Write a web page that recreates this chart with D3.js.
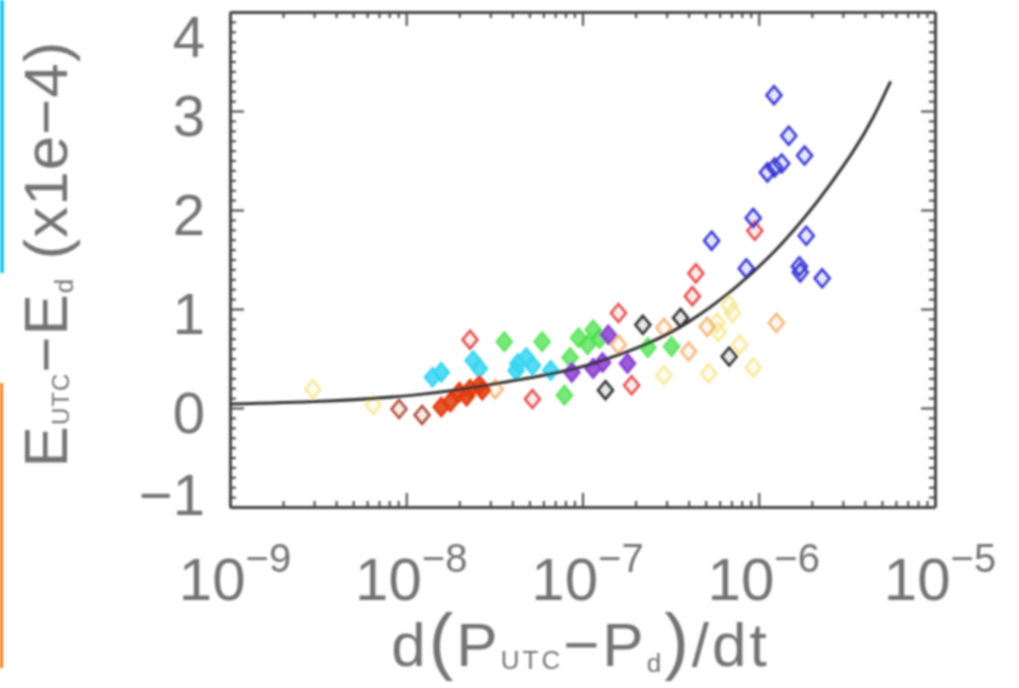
<!DOCTYPE html>
<html>
<head>
<meta charset="utf-8">
<script src="https://cdn.jsdelivr.net/npm/d3@7/dist/d3.min.js"></script>
<style>
  html, body { margin: 0; padding: 0; background: #ffffff; }
  svg { display: block; }
  text { font-family: "Liberation Sans", Arial, Helvetica, sans-serif; fill: #737373; }
</style>
</head>
<body>
<svg id="chart" width="1019" height="688"></svg>
<script>
// ---------------- data ----------------
const xTickValues = [1e-9, 1e-8, 1e-7, 1e-6, 1e-5];
const xTickExponents = ["\u22129", "\u22128", "\u22127", "\u22126", "\u22125"];
const yTickValues = [-1, 0, 1, 2, 3, 4];
const yTickLabels = ["\u22121", "0", "1", "2", "3", "4"];

// fitted curve, points [x, y]
const fitCurve = [
  [1e-9, 0.04], [1.1e-8, 0.13], [3.6e-8, 0.26], [1.2e-7, 0.46], [4.0e-7, 0.87],
  [7.3e-7, 1.21], [1.35e-6, 1.66], [2.45e-6, 2.22], [4.47e-6, 2.94], [5.6e-6, 3.30]
];

// scatter series [x, y]
const blueData = [
  [1.22e-6, 3.16], [1.48e-6, 2.75], [1.82e-6, 2.55], [1.23e-6, 2.43], [1.35e-6, 2.47],
  [1.12e-6, 2.38], [9.3e-7, 1.92], [5.4e-7, 1.69], [1.86e-6, 1.74], [8.5e-7, 1.41],
  [1.70e-6, 1.43], [1.72e-6, 1.37], [2.29e-6, 1.31]
];
const redData = [
  [9.5e-7, 1.79], [4.4e-7, 1.36], [4.2e-7, 1.13], [2.3e-8, 0.69], [5.2e-8, 0.09],
  [1.9e-7, 0.23], [1.6e-7, 0.96]
];
const blackData = [
  [3.6e-7, 0.91], [6.8e-7, 0.52], [1.35e-7, 0.18], [2.2e-7, 0.84]
];
const purpleData = [
  [1.3e-7, 0.46], [1.8e-7, 0.45], [8.7e-8, 0.36], [1.4e-7, 0.74], [1.15e-7, 0.40]
];
const greenData = [
  [3.6e-8, 0.67], [5.9e-8, 0.67], [1.15e-7, 0.79], [1.07e-7, 0.64], [8.5e-8, 0.51],
  [3.2e-7, 0.62], [2.35e-7, 0.61], [7.9e-8, 0.13], [9.5e-8, 0.71], [1.25e-7, 0.70]
];
const cyanData = [
  [1.41e-8, 0.31], [1.58e-8, 0.36], [2.4e-8, 0.48], [2.6e-8, 0.40], [4.3e-8, 0.45],
  [4.8e-8, 0.51], [5.2e-8, 0.43], [6.6e-8, 0.38], [4.2e-8, 0.38]
];
const redFilledData = [
  [2.0e-8, 0.16], [2.3e-8, 0.19], [2.6e-8, 0.23], [1.78e-8, 0.06], [1.58e-8, 0.01],
  [2.7e-8, 0.18], [2.2e-8, 0.12]
];
const darkRedData = [
  [9.1e-9, -0.01], [1.23e-8, -0.07]
];
const orangeData = [
  [3.2e-8, 0.19], [2.9e-7, 0.81], [4.0e-7, 0.57], [1.26e-6, 0.86], [1.6e-7, 0.64],
  [5.1e-7, 0.82]
];
const yellowData = [
  [2.95e-9, 0.19], [6.8e-7, 1.04], [7.1e-7, 0.96], [5.8e-7, 0.86], [9.3e-7, 0.41],
  [5.2e-7, 0.35], [2.9e-7, 0.33], [7.8e-7, 0.64], [6.5e-9, 0.03], [5.9e-7, 0.77]
];

// drawing order / styles
const seriesTable = [
  { data: yellowData,    color: "#f6e27a", filled: false, opacity: 0.75 },
  { data: orangeData,    color: "#f2a860", filled: false, opacity: 0.8 },
  { data: cyanData,      color: "#3ad6f2", filled: true,  opacity: 1 },
  { data: greenData,     color: "#46e046", filled: true,  opacity: 0.85 },
  { data: redFilledData, color: "#e23c10", filled: true,  opacity: 1 },
  { data: darkRedData,   color: "#b0503c", filled: false, opacity: 1 },
  { data: purpleData,    color: "#8a40d0", filled: true,  opacity: 1 },
  { data: redData,       color: "#e45050", filled: false, opacity: 1 },
  { data: blackData,     color: "#333333", filled: false, opacity: 1 },
  { data: blueData,      color: "#3838d6", filled: false, opacity: 1 }
];

// ---------------- layout ----------------
const svg = d3.select("#chart");
const plot = { left: 230, right: 935, top: 12, bottom: 507 };

const x = d3.scaleLog().domain([1e-9, 1e-5]).range([plot.left, plot.right]);
const y = d3.scaleLinear().domain([-1, 4]).range([plot.bottom, plot.top]);

// blur to mimic the soft reference
const defs = svg.append("defs");
defs.append("filter").attr("id", "soft").attr("x", "-5%").attr("y", "-5%")
  .attr("width", "110%").attr("height", "110%")
  .append("feGaussianBlur").attr("stdDeviation", 0.9);

const root = svg.append("g").attr("filter", "url(#soft)");

// side markers seen on the reference's left edge
root.append("rect").attr("x", 0).attr("y", 0).attr("width", 4).attr("height", 273).attr("fill", "#1ec6f0");
root.append("rect").attr("x", 0).attr("y", 383).attr("width", 3).attr("height", 285).attr("fill", "#f47a10");

// ---------------- axes ----------------
const majorLen = 14, minorLen = 6;
const xMinor = x.ticks().filter(v => !xTickValues.some(m => Math.abs(m - v) / m < 1e-6));
const yMinor = y.ticks(50).filter(v => !yTickValues.some(m => Math.abs(m - v) < 1e-6));

function styleAxis(g, keepDomain) {
  g.selectAll(".tick line").attr("stroke", "#444").attr("stroke-width", 2);
  g.selectAll(".tick text").remove();
  if (keepDomain) g.select(".domain").attr("stroke", "#444").attr("stroke-width", 3);
  else g.select(".domain").remove();
}

const axes = root.append("g");
axes.append("g").attr("transform", `translate(0,${plot.bottom})`)
  .call(d3.axisBottom(x).tickValues(xMinor).tickSize(-minorLen).tickSizeOuter(0).tickFormat(""))
  .call(g => styleAxis(g, false));
axes.append("g").attr("transform", `translate(0,${plot.bottom})`)
  .call(d3.axisBottom(x).tickValues(xTickValues).tickSize(-majorLen).tickSizeOuter(0).tickFormat(""))
  .call(g => styleAxis(g, true));
axes.append("g").attr("transform", `translate(0,${plot.top})`)
  .call(d3.axisTop(x).tickValues(xMinor).tickSize(-minorLen).tickSizeOuter(0).tickFormat(""))
  .call(g => styleAxis(g, false));
axes.append("g").attr("transform", `translate(0,${plot.top})`)
  .call(d3.axisTop(x).tickValues(xTickValues).tickSize(-majorLen).tickSizeOuter(0).tickFormat(""))
  .call(g => styleAxis(g, true));
axes.append("g").attr("transform", `translate(${plot.left},0)`)
  .call(d3.axisLeft(y).tickValues(yMinor).tickSize(-minorLen).tickSizeOuter(0).tickFormat(""))
  .call(g => styleAxis(g, false));
axes.append("g").attr("transform", `translate(${plot.left},0)`)
  .call(d3.axisLeft(y).tickValues(yTickValues).tickSize(-majorLen).tickSizeOuter(0).tickFormat(""))
  .call(g => styleAxis(g, true));
axes.append("g").attr("transform", `translate(${plot.right},0)`)
  .call(d3.axisRight(y).tickValues(yMinor).tickSize(-minorLen).tickSizeOuter(0).tickFormat(""))
  .call(g => styleAxis(g, false));
axes.append("g").attr("transform", `translate(${plot.right},0)`)
  .call(d3.axisRight(y).tickValues(yTickValues).tickSize(-majorLen).tickSizeOuter(0).tickFormat(""))
  .call(g => styleAxis(g, true));

// ---------------- tick labels ----------------
const xl = root.append("g").selectAll("text").data(xTickValues).join("text")
  .attr("x", d => x(d) + 5).attr("y", 600)
  .attr("text-anchor", "middle").attr("font-size", 60);
xl.append("tspan").text("10");
xl.append("tspan").attr("font-size", 40).attr("dy", -28).text((d, i) => xTickExponents[i]);

// outer labels sit slightly inside the frame in the reference
const yEdgeNudge = v => (v === 4 ? 20 : v === -1 ? -17 : 0);
root.append("g").selectAll("text").data(yTickValues).join("text")
  .attr("x", 205).attr("y", d => y(d) + 25 + yEdgeNudge(d))
  .attr("text-anchor", "end").attr("font-size", 58)
  .text((d, i) => yTickLabels[i]);

// ---------------- axis titles ----------------
const yt = root.append("text")
  .attr("transform", "translate(67,254) rotate(-90)")
  .attr("text-anchor", "middle").attr("font-size", 62)
  .attr("letter-spacing", 1);
yt.append("tspan").text("E");
yt.append("tspan").attr("font-size", 24).attr("dy", 2).text("UTC");
yt.append("tspan").attr("dy", -2).text("\u2212E");
yt.append("tspan").attr("font-size", 26).attr("dy", 6).text("d");
yt.append("tspan").attr("dy", -6).text(" (x1e\u22124)");

const xt = root.append("text")
  .attr("x", (plot.left + plot.right) / 2 - 2).attr("y", 666)
  .attr("text-anchor", "middle").attr("font-size", 62)
  .attr("letter-spacing", 3);
xt.append("tspan").text("d");
xt.append("tspan").attr("font-size", 74).text("(");
xt.append("tspan").text("P");
xt.append("tspan").attr("font-size", 26).attr("dy", 3).text("UTC");
xt.append("tspan").attr("dy", -3).text("\u2212P");
xt.append("tspan").attr("font-size", 26).attr("dy", 6).text("d");
xt.append("tspan").attr("dy", -6).attr("font-size", 74).text(")");
xt.append("tspan").text("/dt");

// ---------------- marks ----------------
defs.append("clipPath").attr("id", "plotclip").append("rect")
  .attr("x", plot.left).attr("y", plot.top)
  .attr("width", plot.right - plot.left).attr("height", plot.bottom - plot.top);

const marks = root.append("g").attr("clip-path", "url(#plotclip)");

const diamond = "M0,-9L7.5,0L0,9L-7.5,0Z";
seriesTable.forEach(s => {
  marks.append("g").selectAll("path").data(s.data).join("path")
    .attr("d", diamond)
    .attr("transform", d => `translate(${x(d[0])},${y(d[1])})`)
    .attr("fill", s.color)
    .attr("fill-opacity", s.filled ? 0.85 : 0.12)
    .attr("stroke", s.color)
    .attr("stroke-width", 2.6)
    .attr("opacity", s.opacity);
});

const line = d3.line().x(d => x(d[0])).y(d => y(d[1])).curve(d3.curveMonotoneX);
marks.append("path").datum(fitCurve)
  .attr("d", line)
  .attr("fill", "none")
  .attr("stroke", "#333")
  .attr("stroke-width", 3);
</script>
</body>
</html>
